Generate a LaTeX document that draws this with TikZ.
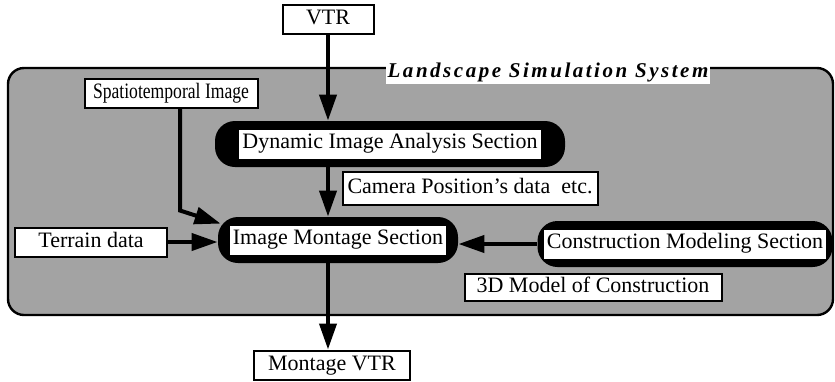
\documentclass[tikz,border=0pt]{standalone}
\usepackage{fontspec}
\setmainfont{Liberation Serif}
\newfontfamily\sysfont{Liberation Serif}[LetterSpace=12]
\usetikzlibrary{arrows.meta,positioning,calc}
\definecolor{screen}{HTML}{A3A3A3}
\newcommand{\secl}[1]{{\setlength{\fboxsep}{1.5pt}\colorbox{white}{\rule[-3.5pt]{0pt}{11.5pt}#1}}}
\tikzset{
  databox/.style={draw=black, line width=1pt, fill=white, inner sep=1pt,
                  minimum height=14.5pt, text height=7.5pt, text depth=2.5pt,
                  font=\fontsize{11}{13}\selectfont},
  secbox/.style={fill=black, rounded corners=10pt, inner sep=1pt,
                 minimum height=23pt, font=\fontsize{11}{13}\selectfont},
  sysbox/.style={draw=black, line width=1.2pt, fill=screen, rounded corners=8pt},
  syslabel/.style={fill=white, inner xsep=1pt, inner ysep=1pt,
                   font=\sysfont\fontsize{10.5}{12}\selectfont\bfseries\itshape},
  arr/.style={-{Triangle[length=13pt,width=8.5pt]}, line width=2pt}}

\begin{document}
\begin{tikzpicture}[x=0.5pt, y=-0.5pt]
  \useasboundingbox (0,0) rectangle (835,381);
  % system frame and its title
  \draw[sysbox] (8,68) rectangle (833,315);
  \node[syslabel] (sys) at (548,72) {Landscape Simulation System};

  % sections
  \node[secbox, minimum width=175pt] (dia) at (390,144) {\secl{Dynamic Image Analysis Section}};
  \node[secbox, minimum width=120pt] (ims) at (338,240) {\secl{Image Montage Section}};
  \node[secbox, minimum width=147.5pt] (cms) at (685,244) {\secl{Construction Modeling Section}};

  % data
  \node[databox, minimum width=45.5pt] (vtr) at (328,19) {VTR};
  \node[databox, minimum width=86.5pt] (sti) at (171,93) {\scalebox{0.8}[1]{Spatiotemporal Image}};
  \node[databox, minimum width=76pt] (ter) at (91,242) {Terrain data};
  \node[databox, minimum width=127.5pt, minimum height=16.5pt] (cam) at (470,188) {Camera Position's data\ \ etc.};
  \node[databox, minimum width=128.5pt, minimum height=13.5pt] (tdm) at (593,287) {3D Model of Construction\ };
  \node[databox, minimum width=78pt] (mvtr) at (332,365) {Montage VTR};

  \draw[arr] (vtr.south) -- (vtr |- dia.north);
  \draw[arr] (vtr |- dia.south) -- (vtr |- ims.north);
  \draw[arr] (vtr |- ims.south) -- (vtr |- mvtr.north);
  \draw[arr] ([xshift=4.5pt]sti.south) -- ++(0,102) -- ([xshift=1.5pt,yshift=-3.5pt]ims.north west);
  \draw[arr] (ter.east) -- (ter.east -| ims.west);
  \draw[arr] (cms.west) -- (cms.west -| ims.east);
\end{tikzpicture}
\end{document}
